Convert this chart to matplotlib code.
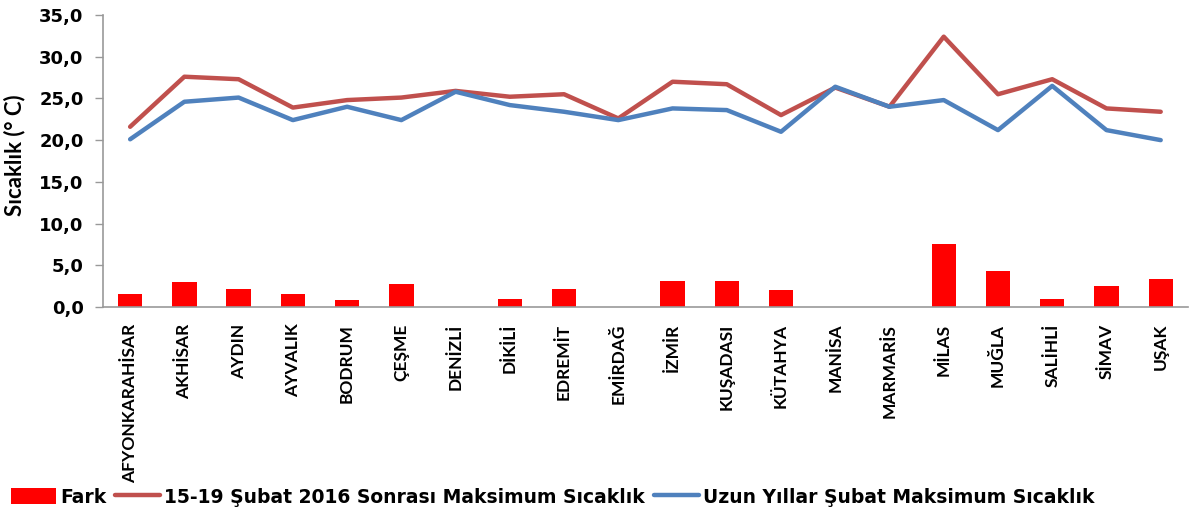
import matplotlib
matplotlib.use("Agg")
import matplotlib.pyplot as plt
import numpy as np

# stations and values
stations = ["AFYONKARAHİSAR", "AKHİSAR", "AYDIN", "AYVALIK", "BODRUM", "ÇEŞME",
            "DENİZLİ", "DİKİLİ", "EDREMİT", "EMİRDAĞ", "İZMİR", "KUŞADASI",
            "KÜTAHYA", "MANİSA", "MARMARİS", "MİLAS", "MUĞLA", "SALİHLİ",
            "SİMAV", "UŞAK"]
maxTemp2016 = [21.6, 27.6, 27.3, 23.9, 24.8, 25.1, 25.9, 25.2, 25.5, 22.6,
               27.0, 26.7, 23.0, 26.3, 24.0, 32.4, 25.5, 27.3, 23.8, 23.4]
maxTempLongTerm = [20.1, 24.6, 25.1, 22.4, 24.0, 22.4, 25.8, 24.2, 23.4, 22.4,
                   23.8, 23.6, 21.0, 26.4, 24.0, 24.8, 21.2, 26.5, 21.2, 20.0]
fark = [1.6, 3.0, 2.2, 1.5, 0.8, 2.7, 0.0, 0.9, 2.1, 0.0,
        3.1, 3.1, 2.0, 0.0, 0.0, 7.5, 4.3, 0.9, 2.5, 3.4]
yTicks = [0, 5, 10, 15, 20, 25, 30, 35]

fig = plt.figure(figsize=(11.95, 5.13), dpi=100)
ax = fig.add_axes([0.0862, 0.4016, 0.9078, 0.5692])

x = np.arange(len(stations))
bars = ax.bar(x, fark, width=0.45, color="#FF0000", label="Fark", zorder=2)
redLine, = ax.plot(x, maxTemp2016, color="#C0504D", lw=3.2, solid_capstyle="round",
                   label="15-19 Şubat 2016 Sonrası Maksimum Sıcaklık", zorder=3)
blueLine, = ax.plot(x, maxTempLongTerm, color="#4F81BD", lw=3.2, solid_capstyle="round",
                    label="Uzun Yıllar Şubat Maksimum Sıcaklık", zorder=3)

ax.set_xlim(-0.5, len(stations) - 0.5)
ax.set_ylim(0, 35)
ax.set_yticks(yTicks)
ax.set_yticklabels([f"{v:.1f}".replace(".", ",") for v in yTicks],
                   fontsize=13, fontweight="bold", family="DejaVu Sans")
ax.set_xticks(x)
ax.set_xticklabels(stations, rotation=90, fontsize=12.5, fontweight="bold", family="Lato")
ax.tick_params(axis="x", length=0, pad=12)
ax.tick_params(axis="y", length=6, width=1, color="#999999", pad=8)

for side in ["top", "right"]:
    ax.spines[side].set_visible(False)
for side in ["left", "bottom"]:
    ax.spines[side].set_color("#999999")
    ax.spines[side].set_linewidth(1.2)

ax.set_ylabel("Sıcaklık (° C)", fontsize=16, fontweight="bold", family="Lato")
ax.yaxis.set_label_coords(-0.072, 0.52)

fig.legend(handles=[bars, redLine, blueLine], loc="center left",
           bbox_to_anchor=(0.003, 0.031), ncol=3, frameon=False,
           prop={"family": "DejaVu Sans", "weight": "bold", "size": 13.5},
           handlelength=2.4, handleheight=0.9, handletextpad=0.2,
           columnspacing=0.5, borderaxespad=0.0)

fig.savefig("out.png", dpi=100)
